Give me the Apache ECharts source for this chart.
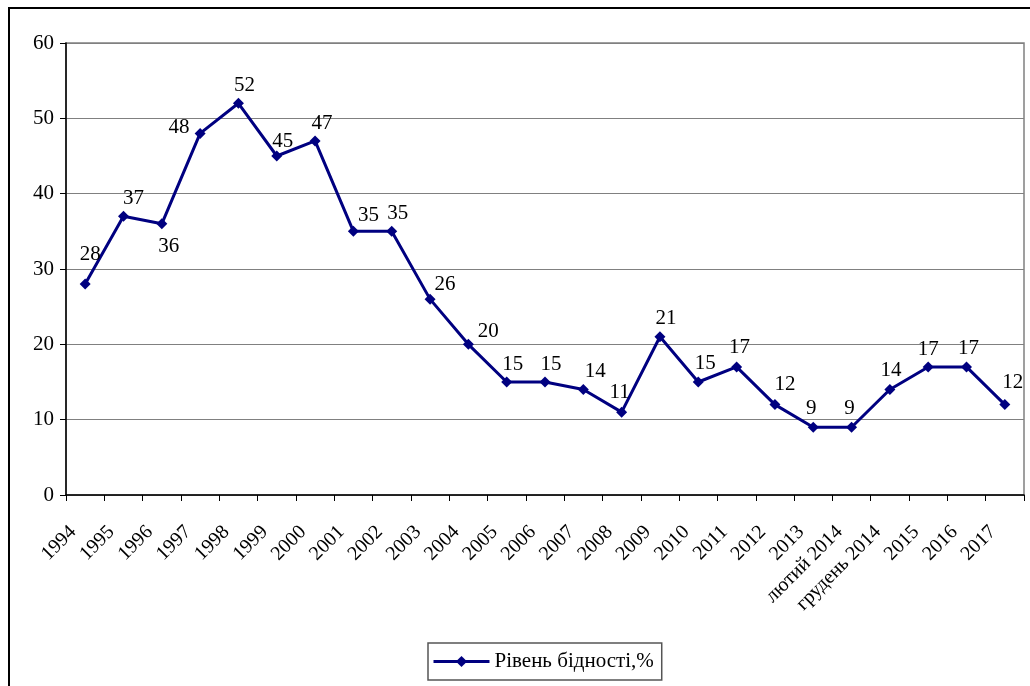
<!DOCTYPE html>
<html><head><meta charset="utf-8">
<script src="https://cdn.jsdelivr.net/npm/echarts@6/dist/echarts.min.js"></script>
<style>html,body{margin:0;padding:0;background:#fff}#c{width:1030px;height:686px}</style>
</head><body><div id="c"></div>
<script>
const categories = ['1994','1995','1996','1997','1998','1999','2000','2001','2002','2003','2004','2005','2006','2007','2008','2009','2010','2011','2012','2013','лютий 2014','грудень 2014','2015','2016','2017'];
const povertyRate = [28,37,36,48,52,45,47,35,35,26,20,15,15,14,11,21,15,17,12,9,9,14,17,17,12];
const seriesName = 'Рівень бідності,%';
const yTicks = [0,10,20,30,40,50,60];

const labelPlacement = {0:['top',[5,-9]],1:['top',[10,3]],2:['bottom',[7,2]],3:['left',[0,-6]],5:['top',[6,6]],6:['top',[7,4]],7:['right',[-6,-16]],9:['right',[-6,-15]],10:['right',[-1,-13]],13:['top',[12,3]],14:['top',[-2,1]],16:['top',[7,2]],17:['top',[3,2]],18:['top',[10,1]],19:['top',[-2,2]],20:['top',[-2,2]],21:['top',[1,2]],22:['top',[0,4]],23:['top',[2,3]],24:['top',[8,-1]]};
const dataItems = povertyRate.map((v,i)=>{
  const p = labelPlacement[i];
  const item = {value:v};
  if(p){item.label={position:p[0],offset:p[1]};}
  return item;
});
const font = '"Liberation Serif","Times New Roman",serif';
const chart = echarts.init(document.getElementById('c'));
chart.setOption({
  backgroundColor:'#fff',
  animation:false,
  graphic:[{type:'rect',shape:{x:9,y:8,width:1100,height:800},style:{fill:'none',stroke:'#000',lineWidth:2},silent:true}],
  grid:{left:66,right:6,top:43,bottom:191,show:true,borderColor:'#808080',borderWidth:1.5},
  legend:{bottom:6,left:428,itemWidth:56,itemHeight:14,itemGap:6,padding:[8,8,8,4],borderColor:'#555',borderWidth:1.5,
    lineStyle:{width:3},
    textStyle:{fontFamily:font,fontSize:21,color:'#000'},data:[seriesName]},
  xAxis:{type:'category',data:categories,boundaryGap:true,
    axisLine:{lineStyle:{color:'#000',width:1.5}},
    axisTick:{show:true,length:6,lineStyle:{color:'#000'}},
    axisLabel:{rotate:45,interval:0,margin:22,padding:[0,17,0,0],fontFamily:font,fontSize:20,color:'#000'}},
  yAxis:{type:'value',min:0,max:60,interval:10,
    axisLine:{show:true,lineStyle:{color:'#000',width:1.5}},
    axisTick:{show:true,length:6,lineStyle:{color:'#000'}},
    splitLine:{lineStyle:{color:'#808080',width:1.2}},
    axisLabel:{margin:12,fontFamily:font,fontSize:21,color:'#000',formatter:v=>yTicks.includes(v)?String(v):''}},
  series:[{name:seriesName,type:'line',data:dataItems,symbol:'diamond',symbolSize:11,
    lineStyle:{color:'#000080',width:3},itemStyle:{color:'#000080'},
    label:{show:true,position:'top',offset:[6,3],fontFamily:font,fontSize:21,color:'#000'}}]
});
</script></body></html>
